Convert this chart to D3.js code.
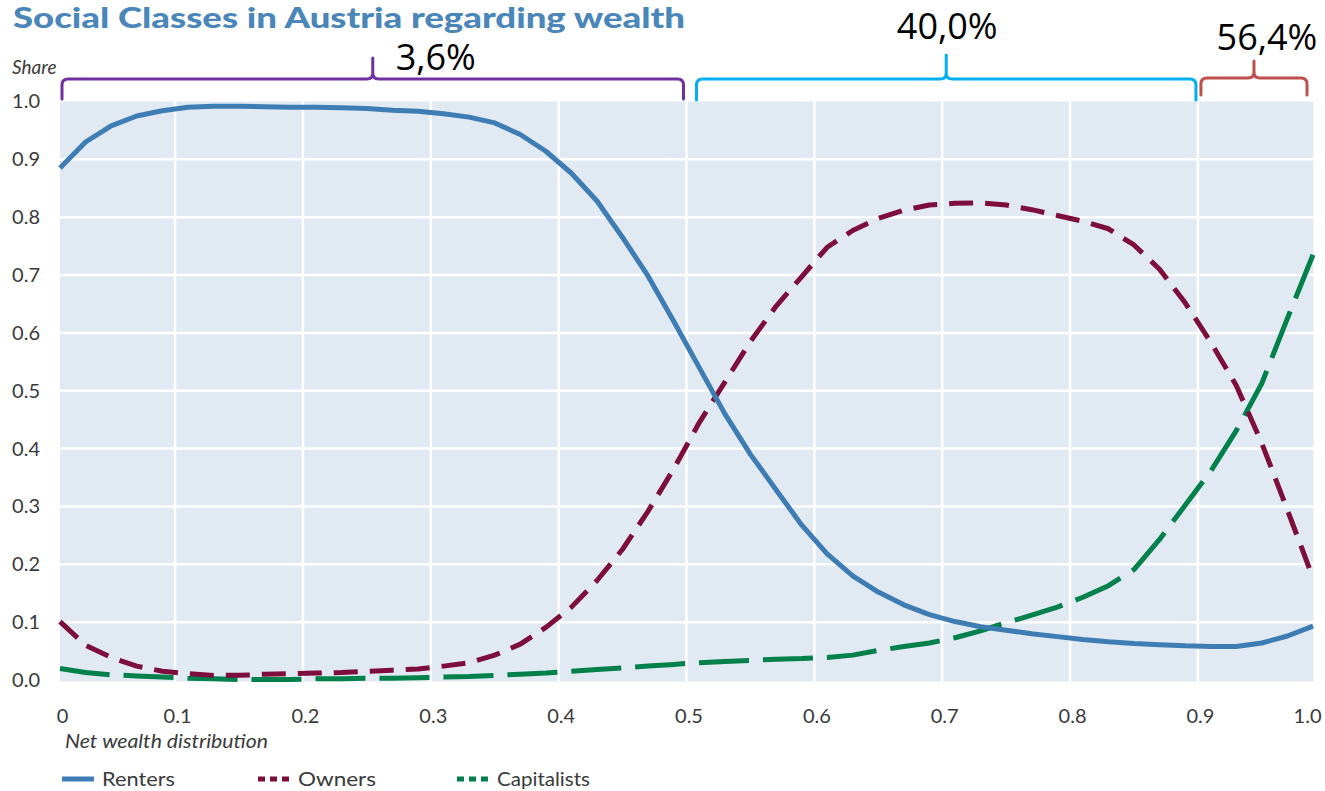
<!DOCTYPE html>
<html><head><meta charset="utf-8">
<script src="https://cdn.jsdelivr.net/npm/d3@7"></script>
<style>body{margin:0;background:#fff}svg{display:block}</style>
</head><body><svg id="c" width="1325" height="791"></svg>
<script>
// ---- data ----
const percentiles = [1,3,5,7,9,11,13,15,17,19,21,23,25,27,29,31,33,35,37,39,41,43,45,47,49,51,53,55,57,59,61,63,65,67,69,71,73,75,77,79,81,83,85,87,89,91,93,95,97,99];
const renters = [0.885,0.930,0.958,0.975,0.984,0.990,0.992,0.992,0.991,0.990,0.990,0.989,0.988,0.985,0.983,0.979,0.973,0.963,0.943,0.914,0.876,0.828,0.765,0.698,0.620,0.540,0.460,0.390,0.329,0.268,0.218,0.180,0.152,0.130,0.113,0.101,0.092,0.086,0.080,0.075,0.070,0.066,0.063,0.061,0.059,0.058,0.058,0.064,0.076,0.093];
const owners = [0.101,0.060,0.039,0.024,0.015,0.011,0.008,0.008,0.010,0.011,0.012,0.013,0.015,0.017,0.019,0.024,0.030,0.043,0.062,0.091,0.126,0.172,0.226,0.292,0.365,0.445,0.515,0.585,0.646,0.697,0.748,0.777,0.798,0.812,0.821,0.824,0.825,0.821,0.813,0.803,0.793,0.780,0.752,0.710,0.652,0.584,0.509,0.409,0.294,0.176];
const capitalists = [0.020,0.013,0.009,0.007,0.005,0.003,0.002,0.001,0.001,0.001,0.002,0.002,0.003,0.003,0.004,0.005,0.006,0.008,0.010,0.012,0.015,0.018,0.021,0.024,0.027,0.030,0.032,0.034,0.036,0.037,0.039,0.043,0.051,0.058,0.064,0.073,0.085,0.099,0.112,0.126,0.143,0.163,0.191,0.243,0.302,0.361,0.431,0.513,0.625,0.735];
const seriesNames = ["Renters","Owners","Capitalists"];
const xTickValues = [0,10,20,30,40,50,60,70,80,90,100];
const xTickLabels = ["0","0.1","0.2","0.3","0.4","0.5","0.6","0.7","0.8","0.9","1.0"];
const yTickValues = [0,0.1,0.2,0.3,0.4,0.5,0.6,0.7,0.8,0.9,1.0];
const yTickLabels = ["0.0","0.1","0.2","0.3","0.4","0.5","0.6","0.7","0.8","0.9","1.0"];
const bracketFrom = [0,50,90];
const bracketTo = [50,90,100];
const bracketLabels = ["3,6%","40,0%","56,4%"];
const titleText = "Social Classes in Austria regarding wealth";

// ---- layout / styles ----
const svg = d3.select("#c");
const x = d3.scaleLinear().domain([1,99]).range([60,1313]).clamp(true);
const y = d3.scaleLinear().domain([0,1]).range([680,101.5]);
const plotL = 60, plotR = 1313.3, plotT = 101.5, plotB = 681.5;
const lblFont = "Lato, 'Open Sans', sans-serif";
const txtColor = "#3a3a3a";
const colors = {Renters:"#3e7db4", Owners:"#7d0e3c", Capitalists:"#00804a"};
const dashes = {Renters:null, Owners:"24,12", Capitalists:"50,14"};

// title (fit to reference width)
svg.append("text").attr("x",13).attr("y",28)
  .attr("font-family",lblFont).attr("font-weight",900).attr("font-size",28)
  .attr("textLength",672).attr("lengthAdjust","spacingAndGlyphs")
  .attr("fill","#4a86b9").text(titleText);

// plot background
svg.append("rect").attr("x",plotL).attr("y",plotT).attr("width",plotR-plotL).attr("height",plotB-plotT).attr("fill","#e1e9f3");

// gridlines
svg.append("g").selectAll("line").data(xTickValues.slice(1,-1)).join("line")
  .attr("x1",d=>x(d)).attr("x2",d=>x(d)).attr("y1",plotT).attr("y2",plotB)
  .attr("stroke","#fff").attr("stroke-width",2.5);
svg.append("g").selectAll("line").data(yTickValues.slice(1,-1)).join("line")
  .attr("x1",plotL).attr("x2",plotR).attr("y1",d=>y(d)).attr("y2",d=>y(d))
  .attr("stroke","#fff").attr("stroke-width",2.5);

// axes
const gx = svg.append("g").attr("transform","translate(2,709)")
  .call(d3.axisBottom(x).tickValues(xTickValues).tickFormat((d,i)=>xTickLabels[i]).tickSize(0).tickPadding(0));
const gy = svg.append("g").attr("transform","translate(40,0)")
  .call(d3.axisLeft(y).tickValues(yTickValues).tickFormat((d,i)=>yTickLabels[i]).tickSize(0).tickPadding(0));
[gx,gy].forEach(g=>{
  g.select(".domain").remove();
  g.attr("font-family",lblFont).attr("font-size",20);
  g.selectAll("text").attr("fill",txtColor);
});
// keep the last x label inside the picture
gx.selectAll("text").filter((d,i)=>i===xTickValues.length-1).attr("text-anchor","end").attr("dx",6);

// axis titles
svg.append("text").attr("x",12).attr("y",74).attr("font-family",lblFont).attr("font-style","italic")
  .attr("font-size",19).attr("fill",txtColor).text("Share");
svg.append("text").attr("x",65).attr("y",748).attr("font-family",lblFont).attr("font-style","italic")
  .attr("font-size",19).attr("textLength",203).attr("lengthAdjust","spacingAndGlyphs")
  .attr("fill",txtColor).text("Net wealth distribution");

// series
const seriesData = {Renters:renters, Owners:owners, Capitalists:capitalists};
const line = d3.line().x((d,i)=>x(percentiles[i])).y(d=>y(d));
["Capitalists","Owners","Renters"].forEach(name=>{
  svg.append("path").datum(seriesData[name]).attr("d",line)
    .attr("fill","none").attr("stroke",colors[name]).attr("stroke-width",5)
    .attr("stroke-linejoin","round").attr("stroke-linecap","butt")
    .attr("stroke-dasharray",dashes[name]);
});

// legend
const legendX = [62,258,457];
const legendW = [73,78,93];
seriesNames.forEach((name,i)=>{
  const g = svg.append("g").attr("transform",`translate(${legendX[i]},779)`);
  g.append("line").attr("x1",0).attr("x2",32).attr("y1",0).attr("y2",0)
    .attr("stroke",colors[name]).attr("stroke-width",5)
    .attr("stroke-dasharray", i===0?null:"7,5");
  g.append("text").attr("x",40).attr("y",7).attr("font-family",lblFont).attr("font-size",20)
    .attr("textLength",legendW[i]).attr("lengthAdjust","spacingAndGlyphs")
    .attr("fill",txtColor).text(name);
});

// brackets
const bracketColors = ["#7030a0","#00b0f0","#c0504d"];
const bracketGeom = [
  {inL:2, inR:3, yh:79, yb:99, yt:58, lx:63, ly:70},
  {inL:10, inR:2, yh:79, yb:100, yt:55, lx:1, ly:39},
  {inL:3, inR:6, yh:78, yb:95, yt:61, lx:13, ly:50}
];
bracketFrom.forEach((f,i)=>{
  const gm = bracketGeom[i];
  const x0 = x(f)+gm.inL, x1 = x(bracketTo[i])-gm.inR, xm = (x0+x1)/2, r = 6;
  const p = d3.path();
  p.moveTo(x0,gm.yb); p.lineTo(x0,gm.yh+r); p.quadraticCurveTo(x0,gm.yh,x0+r,gm.yh);
  p.lineTo(xm-r,gm.yh); p.quadraticCurveTo(xm,gm.yh,xm,gm.yh-r); p.lineTo(xm,gm.yt);
  p.moveTo(xm,gm.yh-r); p.quadraticCurveTo(xm,gm.yh,xm+r,gm.yh);
  p.lineTo(x1-r,gm.yh); p.quadraticCurveTo(x1,gm.yh,x1,gm.yh+r); p.lineTo(x1,gm.yb);
  svg.append("path").attr("d",p.toString()).attr("fill","none").attr("stroke",bracketColors[i])
    .attr("stroke-width",3).attr("stroke-linecap","round");
  svg.append("text").attr("x",xm+gm.lx).attr("y",gm.ly).attr("text-anchor","middle")
    .attr("font-family","'Open Sans', sans-serif").attr("font-size",36).attr("fill","#000")
    .text(bracketLabels[i]);
});
</script></body></html>
